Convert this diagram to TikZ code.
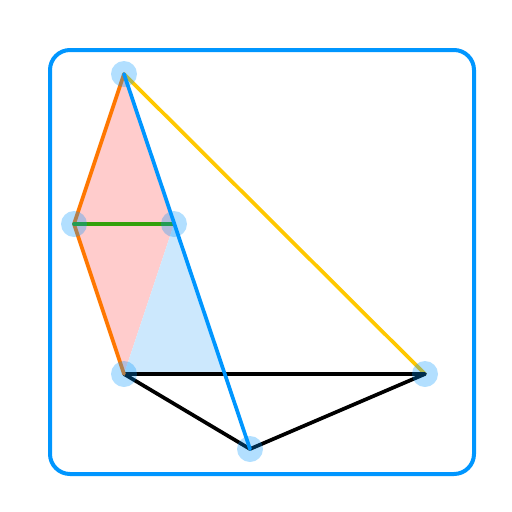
\documentclass[tikz,border=0pt]{standalone}
\usetikzlibrary{calc}
\definecolor{frameblue}{HTML}{0096FF}
\definecolor{pinkfill}{HTML}{FFCCCC}
\definecolor{bluefill}{HTML}{CCE8FD}
\definecolor{orangeln}{HTML}{FF7700}
\definecolor{greenln}{HTML}{33A00A}
\definecolor{yellowln}{HTML}{FFC800}
\tikzset{
  seg/.style={line width=3.7pt, line cap=round, line join=round},
  dot/.style={fill=frameblue, fill opacity=0.3, draw=none},
}
\begin{document}
\begin{tikzpicture}[x=1pt,y=-1pt]
\useasboundingbox (0,0) rectangle (512,512);
\coordinate (T) at (124,74);
\coordinate (L) at (74,224);
\coordinate (M) at (174,224);
\coordinate (BL) at (124,374);
\coordinate (R) at (425,374);
\coordinate (B) at (250,449);
\coordinate (X) at (224.8,374);
\draw[frameblue, line width=4pt, rounded corners=20pt] (50,50) rectangle (474,474);
\fill[pinkfill] (T) -- (L) -- (BL) -- (M) -- cycle;
\fill[bluefill] (M) -- (BL) -- (X) -- cycle;
\draw[seg, yellowln] (T) -- (R);
\draw[seg, black] (BL) -- (R) -- (B) -- cycle;
\draw[seg, orangeln] (T) -- (L) -- (BL);
\draw[seg, greenln] (L) -- (M);
\draw[seg, frameblue] (T) -- (B);
\foreach \p in {T,L,M,BL,R,B} \fill[dot] (\p) circle (13);
\end{tikzpicture}
\end{document}
